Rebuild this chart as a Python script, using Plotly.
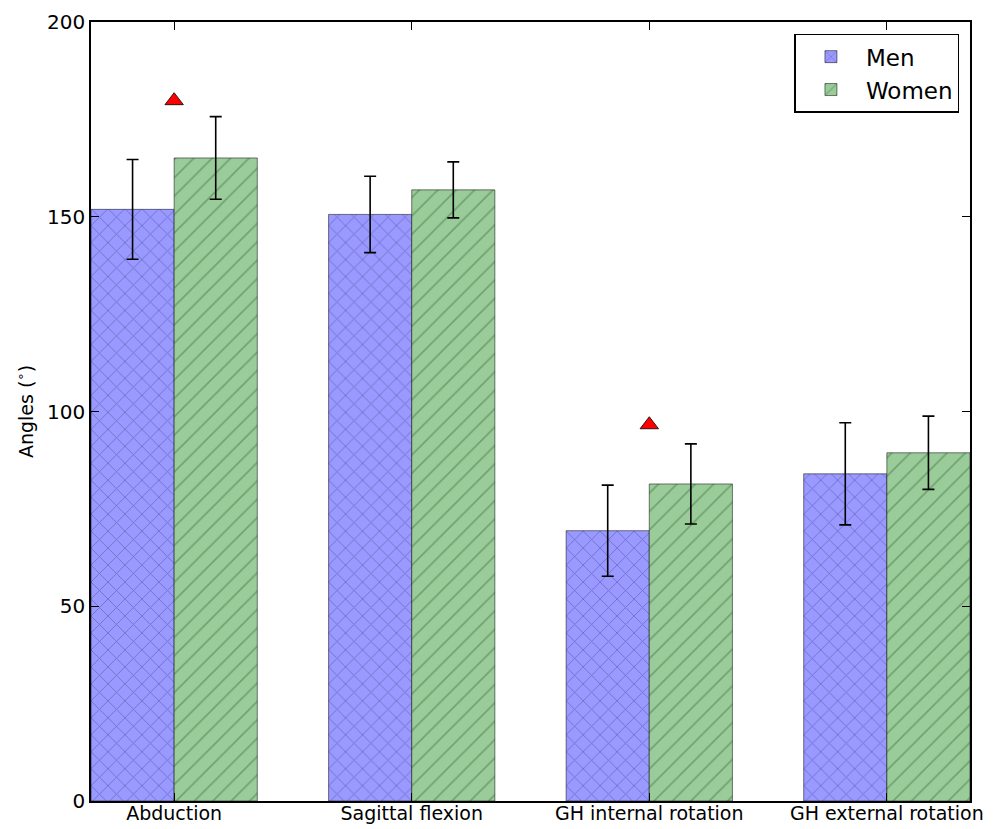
import plotly.graph_objects as go

# Range of motion by movement, mean ± SD, per sex
categories = ["Abduction", "Sagittal flexion", "GH internal rotation", "GH external rotation"]
men_mean = [151.9, 150.6, 69.4, 84.0]
men_sd = [12.8, 9.8, 11.7, 13.1]
women_mean = [165.1, 156.9, 81.4, 89.4]
women_sd = [10.6, 7.2, 10.3, 9.4]

# Movements with a significant sex difference, and marker height
sig_index = [0, 2]
sig_level = [179.8, 96.6]

yticks = [0, 50, 100, 150, 200]

width = 0.35
idx = list(range(len(categories)))

fig = go.Figure()

fig.add_trace(go.Bar(
    name="Men",
    x=[i + width / 2 for i in idx],
    y=men_mean,
    width=width,
    marker=dict(
        color="rgb(153,153,255)",
        line=dict(color="rgba(0,0,0,0.5)", width=1),
        pattern=dict(shape="x", size=12, solidity=0.15,
                     fgcolor="rgb(75,75,155)", bgcolor="rgb(153,153,255)",
                     fillmode="overlay"),
    ),
    error_y=dict(type="data", array=men_sd, color="black", thickness=1.6, width=6),
))

fig.add_trace(go.Bar(
    name="Women",
    x=[i + 1.5 * width for i in idx],
    y=women_mean,
    width=width,
    marker=dict(
        color="rgb(153,204,153)",
        line=dict(color="rgba(0,0,0,0.5)", width=1),
        pattern=dict(shape="/", size=13, solidity=0.13,
                     fgcolor="rgb(75,115,75)", bgcolor="rgb(153,204,153)",
                     fillmode="overlay"),
    ),
    error_y=dict(type="data", array=women_sd, color="black", thickness=1.6, width=6),
))

fig.add_trace(go.Scatter(
    x=[i + width for i in sig_index],
    y=sig_level,
    mode="markers",
    marker=dict(symbol="triangle-up", size=16, color="red",
                line=dict(color="black", width=0.8)),
    showlegend=False,
    hoverinfo="skip",
))

fig.update_layout(
    width=995, height=829,
    margin=dict(l=91, r=25, t=22, b=28),
    paper_bgcolor="white",
    plot_bgcolor="white",
    barmode="overlay",
    font=dict(family="DejaVu Sans", color="black", size=20),
    legend=dict(
        x=0.988, y=0.985, xanchor="right", yanchor="top",
        bordercolor="black", borderwidth=1.5, bgcolor="white",
        font=dict(size=23),
        itemwidth=60,
        tracegroupgap=4,
    ),
    xaxis=dict(
        range=[0, len(categories) - 1 + 2 * width],
        tickvals=[i + width for i in idx],
        ticktext=categories,
        ticks="inside", ticklen=8, tickcolor="black",
        showline=True, linecolor="black", linewidth=1.5, mirror="allticks",
        showgrid=False, zeroline=False,
        tickfont=dict(size=19),
        ticklabelstandoff=-6,
        automargin=False,
    ),
    yaxis=dict(
        range=[0, 200],
        tickvals=yticks,
        ticks="inside", ticklen=8, tickcolor="black",
        showline=True, linecolor="black", linewidth=1.5, mirror="allticks",
        showgrid=False, zeroline=False,
        tickfont=dict(size=20),
        automargin=False,
        title=dict(text="Angles (<sup>∘</sup>)", font=dict(size=19), standoff=8),
    ),
)

fig.write_html("out.html")
